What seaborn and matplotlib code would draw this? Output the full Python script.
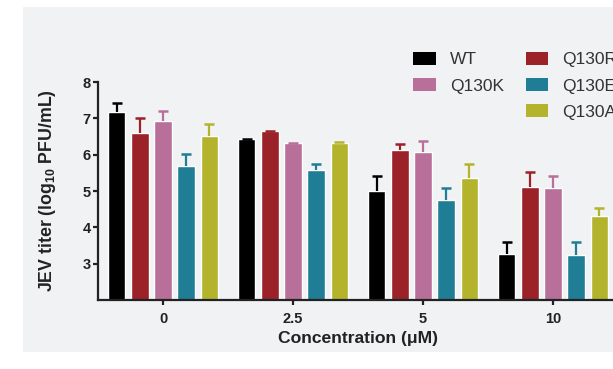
import numpy as np
import pandas as pd
import matplotlib

matplotlib.use("Agg")
import matplotlib.pyplot as plt
from matplotlib.patches import Rectangle, Patch
import seaborn as sns

# data (log10 PFU/mL, upper error only)
concentrations = ["0", "2.5", "5", "10"]
variants = ["WT", "Q130R", "Q130K", "Q130E", "Q130A"]
wt_mean = [7.18, 6.43, 5.00, 3.27]
q130r_mean = [6.60, 6.65, 6.13, 5.12]
q130k_mean = [6.94, 6.31, 6.06, 5.09]
q130e_mean = [5.70, 5.58, 4.75, 3.24]
q130a_mean = [6.51, 6.33, 5.35, 4.31]
wt_err = [0.25, 0.01, 0.41, 0.32]
q130r_err = [0.40, 0.01, 0.15, 0.39]
q130k_err = [0.26, 0.01, 0.32, 0.31]
q130e_err = [0.32, 0.16, 0.32, 0.36]
q130a_err = [0.33, 0.01, 0.39, 0.23]

colors = ["#000000", "#9a2228", "#b8709a", "#1f7e96", "#b3b42c"]

means = [wt_mean, q130r_mean, q130k_mean, q130e_mean, q130a_mean]
errs = [wt_err, q130r_err, q130k_err, q130e_err, q130a_err]

df = pd.DataFrame(
    {
        "conc": concentrations * len(variants),
        "variant": np.repeat(variants, len(concentrations)),
        "titer": np.concatenate(means),
    }
)

sns.set_style("white")
plt.rcParams["font.family"] = ["Liberation Sans", "DejaVu Sans"]
plt.rcParams["mathtext.fontset"] = "custom"
plt.rcParams["mathtext.rm"] = "Liberation Sans:bold"
plt.rcParams["mathtext.it"] = "Liberation Sans:bold"
plt.rcParams["mathtext.bf"] = "Liberation Sans:bold"

W, H = 613, 369
fig = plt.figure(figsize=(W / 100, H / 100), dpi=100, facecolor="white")
# light grey slide panel behind the chart
fig.patches.append(
    Rectangle((23 / W, 1 - 352 / H), 1, (352 - 7) / H,
              transform=fig.transFigure, facecolor="#f1f2f4",
              edgecolor="none", zorder=-10)
)

ax = fig.add_axes([98 / W, 1 - 300 / H, 520 / W, 218 / H])
ax.set_facecolor("none")

sns.barplot(
    data=df, x="conc", y="titer", hue="variant", order=concentrations,
    hue_order=variants, palette=colors, saturation=1, width=0.885,
    gap=0.26, errorbar=None, legend=False, ax=ax,
)

# one-sided error bars (upper only), same colour as the bar
for cont, col, m, e in zip(ax.containers, colors, means, errs):
    xs = [b.get_x() + b.get_width() / 2 for b in cont]
    tops = np.array(m) + np.array(e)
    ax.vlines(xs, m, tops, color=col, lw=1.6, zorder=3)
    ax.plot(xs, tops, ls="none", marker="_", ms=6.5, mew=1.8, color=col,
            zorder=3)

ax.set_ylim(2, 8)
ax.set_xlim(-0.5, 3.5)
ax.set_yticks([3, 4, 5, 6, 7, 8])
for s in ["top", "right"]:
    ax.spines[s].set_visible(False)
for s in ["left", "bottom"]:
    ax.spines[s].set_linewidth(1.6)
    ax.spines[s].set_color("#222222")
ax.tick_params(axis="both", length=3.6, width=1.6, color="#222222",
               labelsize=10.5, labelcolor="#222222", left=True,
               bottom=True)
ax.tick_params(axis="y", pad=1.5)
ax.tick_params(axis="x", pad=5)
for lab in ax.get_xticklabels() + ax.get_yticklabels():
    lab.set_fontweight("bold")

ax.set_xlabel("Concentration (μM)", fontsize=12.6, fontweight="bold",
              color="#222222")
ax.set_ylabel("JEV titer (log$_{10}$ PFU/mL)", fontsize=12.8,
              fontweight="bold", color="#222222")
ax.xaxis.set_label_coords(0.5, -0.14)
ax.yaxis.set_label_coords(-0.077, 0.5)

# legend: WT / Q130K in first column, Q130R / Q130E / Q130A in second
handles = {v: Patch(facecolor=c, edgecolor="none") for v, c in zip(variants, colors)}
blank = Patch(facecolor="none", edgecolor="none")
order = ["WT", "Q130K", None, "Q130R", "Q130E", "Q130A"]
fig.legend(
    [handles[k] if k else blank for k in order],
    [k if k else "" for k in order],
    loc="upper left", bbox_to_anchor=(413 / W, 1 - 52 / H), ncol=2,
    frameon=False, fontsize=12.5, handlelength=1.32, handleheight=0.76,
    handletextpad=0.8, columnspacing=1.25, labelspacing=0.62,
    borderpad=0, borderaxespad=0, labelcolor="#333333",
)

fig.savefig("out.png", dpi=100, facecolor=fig.get_facecolor())
